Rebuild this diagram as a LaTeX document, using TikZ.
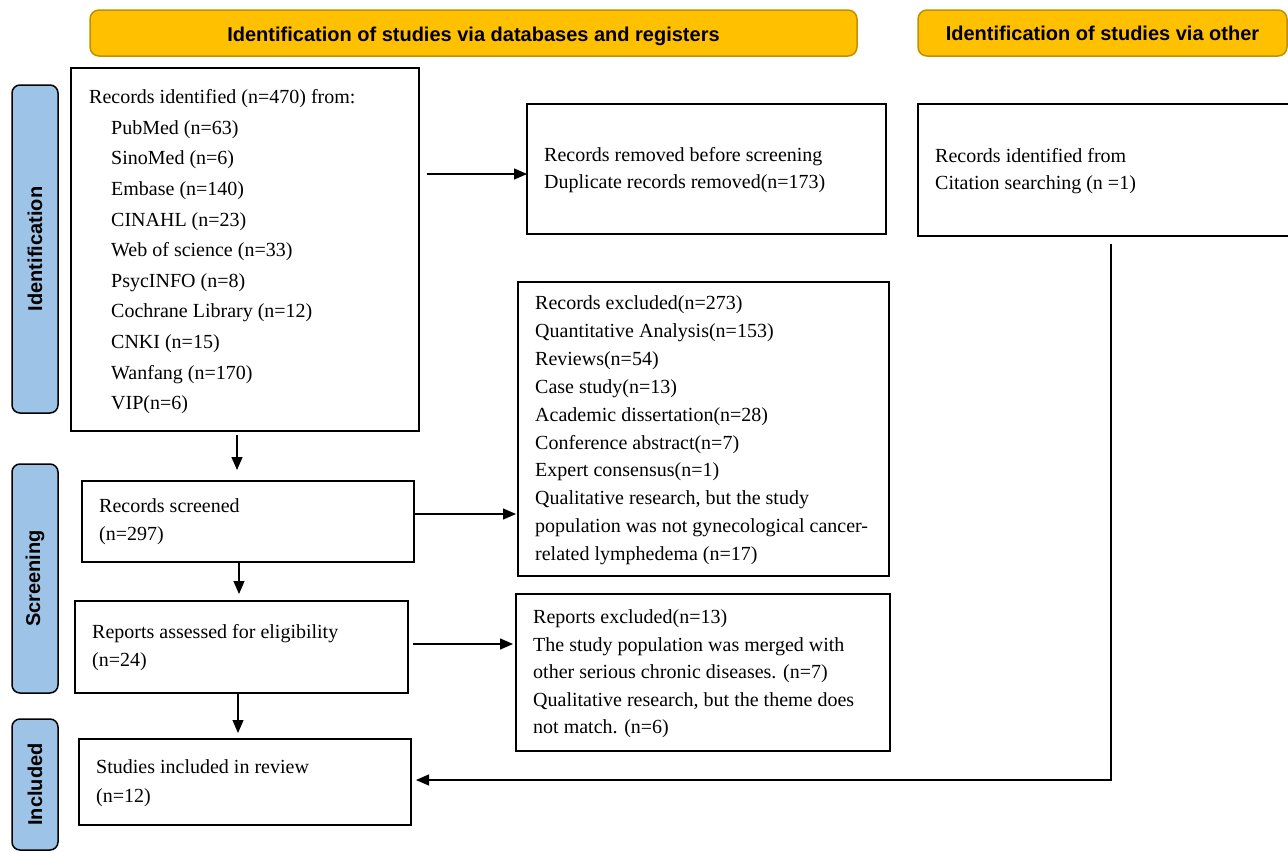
\documentclass[tikz,border=0pt]{standalone}
\usepackage{fontspec}
\setmainfont{Liberation Serif}
\newfontfamily\hdrsans{Liberation Sans}
\usetikzlibrary{arrows.meta}
\definecolor{hdrfill}{HTML}{FFC000}
\definecolor{hdrline}{HTML}{BF9000}
\definecolor{sidefill}{HTML}{9DC3E6}
\tikzset{
 hdr/.style={draw=hdrline, fill=hdrfill, line width=1.5pt, rounded corners=9pt, inner sep=0pt, minimum height=46pt, text depth=0pt, font=\hdrsans\bfseries\fontsize{20}{24}\selectfont},
 side/.style={draw=black, fill=sidefill, line width=1.5pt, rounded corners=8pt, inner sep=0pt, minimum height=46pt, rotate=90, font=\hdrsans\bfseries\fontsize{20}{24}\selectfont},
 box/.style={draw=black, line width=2pt, inner sep=0pt, outer sep=0pt},
 txt/.style={anchor=north west, inner sep=0pt, align=left},
 arr/.style={draw=black, line width=1.3pt, -{Triangle[length=13pt,width=11pt]}},
}
\begin{document}
\begin{tikzpicture}[x=1pt,y=-1pt]
\useasboundingbox (0,0) rectangle (1288,852);
% headers
\node[hdr, minimum width=767pt, text height=16pt] (h1) at (473.5,33) {Identification of studies via databases and registers};
\node[hdr, minimum width=369pt, text height=14.5pt] (h2) at (1102.5,33) {Identification of studies via other};
% side labels
\node[side, minimum width=328pt] (s1) at (35,249) {Identification};
\node[side, minimum width=229pt] (s2) at (35,578.5) {Screening};
\node[side, minimum width=131pt] (s3) at (35,784.5) {Included};
% boxes
\node[box, minimum width=348pt, minimum height=363pt] (m) at (245,249.5) {};
\node[box, minimum width=359pt, minimum height=130pt] (rm) at (706.5,169) {};
\node[box, minimum width=378pt, minimum height=132pt] (ot) at (1107,170) {};
\node[box, minimum width=371pt, minimum height=294pt] (ex) at (703.5,429) {};
\node[box, minimum width=332pt, minimum height=81pt] (sc) at (248,521.5) {};
\node[box, minimum width=374pt, minimum height=157pt] (re) at (703,672.5) {};
\node[box, minimum width=333pt, minimum height=92pt] (as) at (241.5,647) {};
\node[box, minimum width=332pt, minimum height=86pt] (in) at (245,782) {};
% texts
\node[txt, font=\fontsize{20}{30.6}\selectfont] (mT) at (89,89.5) {Records identified (n=470) from:\\
\hspace*{22pt}PubMed (n=63)\\
\hspace*{22pt}SinoMed (n=6)\\
\hspace*{22pt}Embase (n=140)\\
\hspace*{22pt}CINAHL (n=23)\\
\hspace*{22pt}Web of science (n=33)\\
\hspace*{22pt}PsycINFO (n=8)\\
\hspace*{22pt}Cochrane Library (n=12)\\
\hspace*{22pt}CNKI (n=15)\\
\hspace*{22pt}Wanfang (n=170)\\
\hspace*{22pt}VIP(n=6)};
\node[txt, font=\fontsize{20}{27}\selectfont] (rmT) at (544,147.5) {Records removed before screening\\Duplicate records removed(n=173)};
\node[txt, font=\fontsize{20}{27}\selectfont] (otT) at (935,148.5) {Records identified from\\Citation searching (n =1)};
\node[txt, font=\fontsize{20}{27.9}\selectfont] (exT) at (535,295.5) {Records excluded(n=273)\\
Quantitative Analysis(n=153)\\
Reviews(n=54)\\
Case study(n=13)\\
Academic dissertation(n=28)\\
Conference abstract(n=7)\\
Expert consensus(n=1)\\
Qualitative research, but the study\\
population was not gynecological cancer-\\
related lymphedema (n=17)};
\node[txt, font=\fontsize{20}{28}\selectfont] (scT) at (99,498.5) {Records screened\\(n=297)};
\node[txt, font=\fontsize{20}{27.5}\selectfont] (reT) at (533,609.5) {Reports excluded(n=13)\\
The study population was merged with\\
other serious chronic diseases. (n=7)\\
Qualitative research, but the theme does\\
not match. (n=6)};
\node[txt, font=\fontsize{20}{28}\selectfont] (asT) at (92,624.5) {Reports assessed for eligibility\\(n=24)};
\node[txt, font=\fontsize{20}{29}\selectfont] (inT) at (96,759.5) {Studies included in review\\(n=12)};
% helper coordinates
\coordinate (y174) at (0,174);
\coordinate (y514) at (0,514);
\coordinate (y644) at (0,644);
\coordinate (y780) at (0,780);
\coordinate (x237) at (237,0);
\coordinate (x239) at (239,0);
\coordinate (x238) at (238,0);
\coordinate (x1111) at (1111,0);
% connectors
\draw[arr, shorten <=8pt] (m.east |- y174) -- (rm.west |- y174);
\draw[arr, shorten <=4pt, shorten >=11pt] (m.south -| x237) -- (sc.north -| x237);
\draw[arr, shorten >=2pt] (sc.east |- y514) -- (ex.west |- y514);
\draw[arr, shorten >=7pt] (sc.south -| x239) -- (as.north -| x239);
\draw[arr, shorten <=5pt, shorten >=3pt] (as.east |- y644) -- (re.west |- y644);
\draw[arr, shorten <=1pt, shorten >=6pt] (as.south -| x238) -- (in.north -| x238);
\draw[arr, shorten <=8pt, shorten >=5pt] (ot.south -| x1111) |- (in.east |- y780);
\end{tikzpicture}
\end{document}
